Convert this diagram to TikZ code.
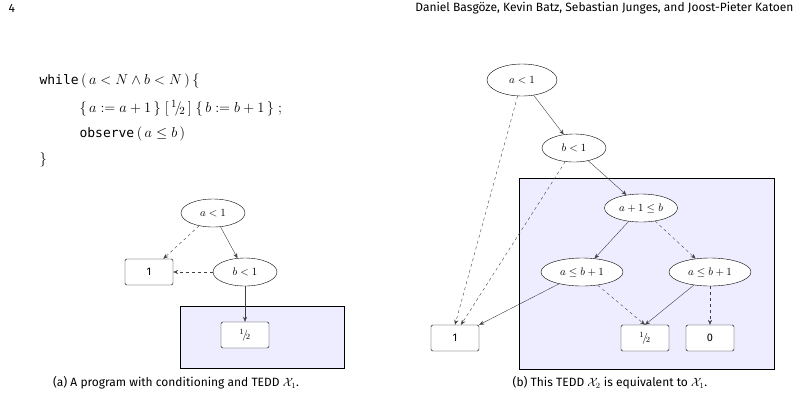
\documentclass[tikz,border=0pt]{standalone}
\usepackage{fontspec}
\setmainfont{Fira Sans}
\setmonofont{DejaVu Sans Mono}
\usetikzlibrary{shapes.geometric,arrows.meta}
\begin{document}
\begin{tikzpicture}[x=1pt,y=-1pt,
  dec/.style={ellipse,draw,fill=white,minimum height=28pt,inner sep=1pt,font=\fontsize{11}{12}\selectfont},
  leaf/.style={rectangle,draw,rounded corners=1.5pt,fill=white,minimum width=48pt,minimum height=26pt,font=\fontsize{11}{12}\selectfont},
  zone/.style={draw,fill=blue!7},
  e/.style={-{Stealth[length=5pt,width=4pt]},draw=black!75},
  d/.style={e,dashed}]
\useasboundingbox (0,0) rectangle (801,408);
\node[anchor=west,font=\fontsize{12}{13}\selectfont] (pn) at (5,8) {4};
\node[anchor=east,font=\fontsize{12}{13}\selectfont] (au) at (797,8) {Daniel Basgöze, Kevin Batz, Sebastian Junges, and Joost-Pieter Katoen};
\begin{scope}[every node/.style={anchor=west,font=\fontsize{15}{16}\selectfont}]
\node (c1) at (36,81) {\texttt{\fontsize{13}{14}\selectfont while}\,$(\,a<N\wedge b<N\,)\,\{$};
\node (c2) at (76,108) {$\{\,a\mathrel{:=}a+1\,\}\;[\,{}^1\!/\!{}_2\,]\;\{\,b\mathrel{:=}b+1\,\}\;;$};
\node (c3) at (76,134) {\texttt{\fontsize{13}{14}\selectfont observe}\,$(\,a\le b\,)$};
\node (c4) at (36,160) {$\}$};
\end{scope}
% left
\draw[zone] (180,306) rectangle (344,368);
\node[dec,minimum width=64pt] (la) at (213,213) {$a<1$};
\node[dec,minimum width=64pt] (lb) at (245,272) {$b<1$};
\node[leaf] (l1) at (149,272) {1};
\node[leaf] (lh) at (245,335) {${}^1\!/\!{}_2$};
\draw[d] (la) -- (l1);
\draw[e] (la) -- (lb);
\draw[d] (lb) -- (l1);
\draw[e] (lb) -- (lh);
% right
\draw[zone] (519,178) rectangle (774,369);
\node[dec,minimum width=70pt,minimum height=32pt] (ra) at (522,80) {$a<1$};
\node[dec,minimum width=64pt] (rb) at (574,148) {$b<1$};
\node[dec,minimum width=73pt] (rc) at (641,208) {$a+1\le b$};
\node[dec,minimum width=82pt] (rl) at (582,272) {$a\le b+1$};
\node[dec,minimum width=82pt] (rr) at (710,272) {$a\le b+1$};
\node[leaf] (r1) at (455,338) {1};
\node[leaf] (rh) at (645,338) {${}^1\!/\!{}_2$};
\node[leaf] (r0) at (710,338) {0};
\draw[d] (ra) -- (r1.north);
\draw[e] (ra) -- (rb);
\draw[d] (rb) -- ([xshift=6pt]r1.north);
\draw[e] (rb) -- (rc);
\draw[e] (rc) -- (rl);
\draw[d] (rc) -- (rr);
\draw[e] (rl) -- (r1.north east);
\draw[d] (rl) -- (rh.north);
\draw[e] (rr) -- (rh.north);
\draw[d] (rr) -- (r0);
\node[font=\fontsize{12}{13}\selectfont] (cl) at (176,383) {(a) A program with conditioning and TEDD $\mathcal{X}_1$.};
\node[font=\fontsize{12}{13}\selectfont] (cr) at (610,383) {(b) This TEDD $\mathcal{X}_2$ is equivalent to $\mathcal{X}_1$.};
\end{tikzpicture}
\end{document}
